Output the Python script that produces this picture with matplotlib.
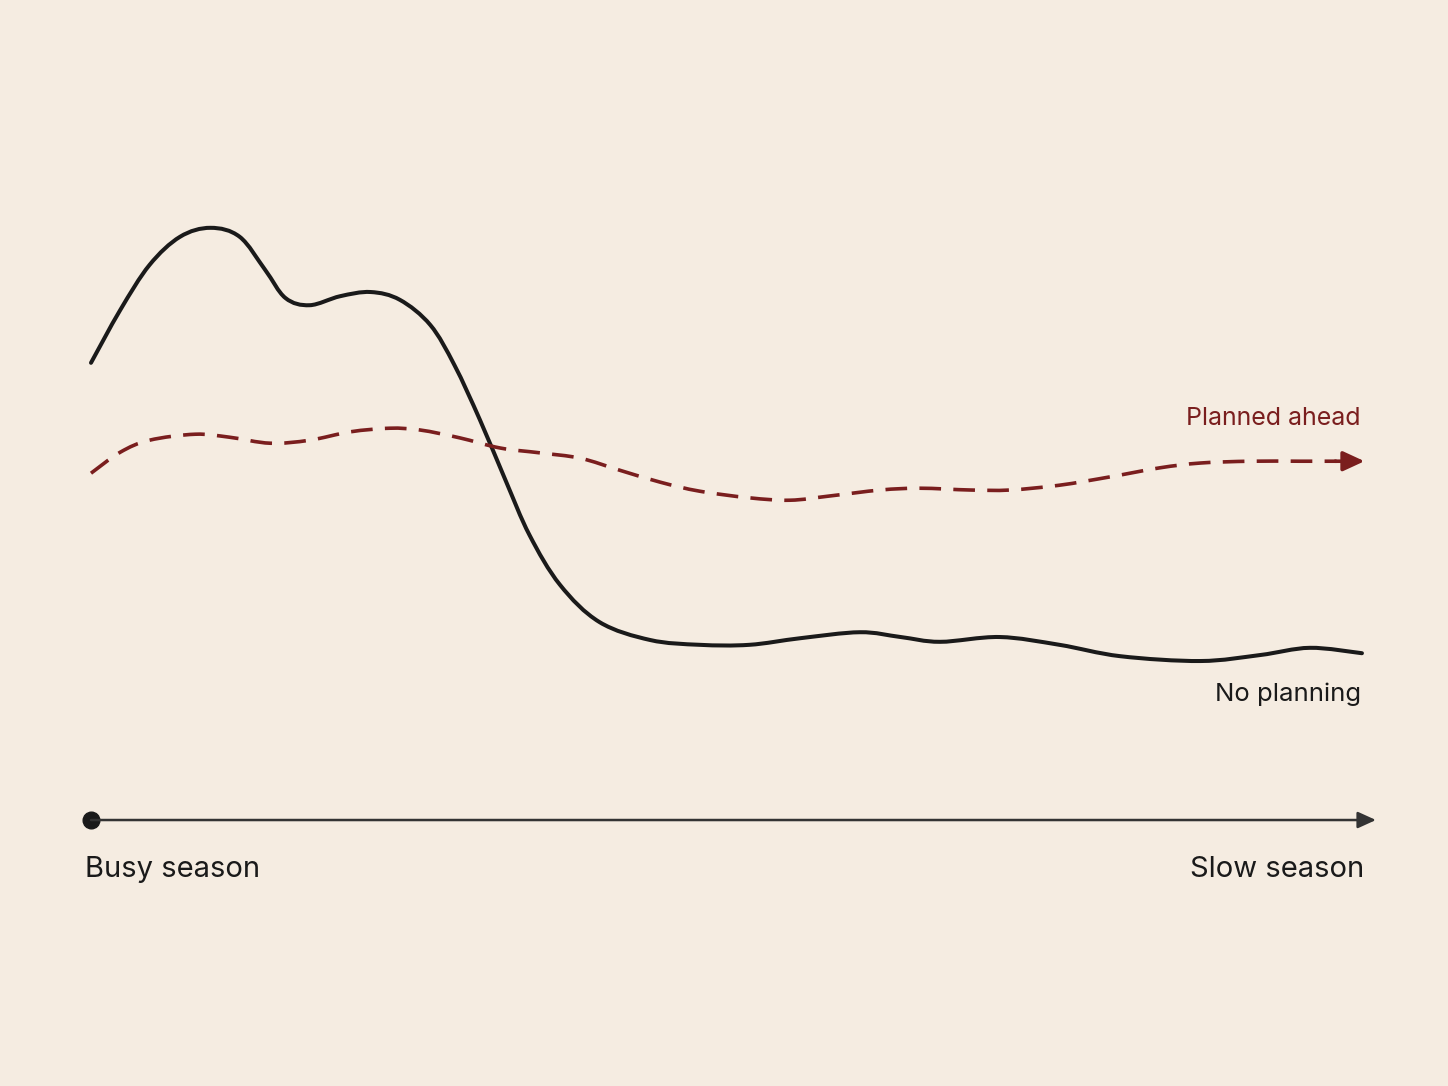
import numpy as np
import matplotlib.pyplot as plt
from matplotlib.path import Path
from matplotlib.patches import PathPatch

# season progress (0 = busy season, 100 = slow season) and workload level
no_plan_x = [0, 2.3, 4.6, 7.0, 9.4, 11.7, 13.7, 15.3, 17.2, 19.6, 22.0, 24.3, 26.7,
             28.6, 30.6, 32.6, 34.5, 36.9, 40.0, 44.0, 47.9, 51.8, 55.8, 60.5,
             63.7, 66.8, 71.5, 76.2, 81.0, 87.3, 92.0, 95.9, 100]
no_plan_y = [76.2, 85.0, 92.5, 97.2, 98.7, 97.2, 91.7, 87.0, 85.8, 87.3, 88.0, 86.7,
             82.5, 75.8, 66.7, 56.7, 47.5, 39.2, 33.0, 30.0, 29.2, 29.2, 30.3, 31.3,
             30.5, 29.7, 30.5, 29.2, 27.3, 26.5, 27.5, 28.7, 27.8]

planned_x = [0, 2.3, 4.6, 8.2, 10.9, 14.1, 17.2, 20.4, 23.5, 25.9, 29.0, 32.2, 35.3,
             38.5, 41.6, 44.8, 47.9, 51.8, 55.0, 58.1, 62.1, 65.2, 69.2, 72.3, 76.2,
             80.2, 84.1, 87.3, 91.2, 95.1, 98.0]
planned_y = [57.8, 61.3, 63.3, 64.3, 63.8, 62.8, 63.3, 64.7, 65.3, 65.0, 63.7, 62.0,
             61.2, 60.3, 58.3, 56.3, 54.8, 53.7, 53.3, 54.0, 55.0, 55.3, 55.0, 55.0,
             55.8, 57.2, 58.7, 59.5, 59.8, 59.8, 59.8]

axis_labels = ["Busy season", "Slow season"]
series_labels = ["Planned ahead", "No planning"]

bg = "#f5ece1"
red = "#7a1e1e"
black = "#1a1a1a"

plt.rcParams['font.family'] = ['Inter', 'DejaVu Sans']


def smooth_path(xs, ys):
    # bezier path through the points (catmull-rom control points)
    pts = np.column_stack([xs, ys])
    n = len(pts)
    verts = [pts[0]]
    codes = [Path.MOVETO]
    for i in range(n - 1):
        p0 = pts[max(i - 1, 0)]
        p1 = pts[i]
        p2 = pts[i + 1]
        p3 = pts[min(i + 2, n - 1)]
        verts += [p1 + (p2 - p0) / 6, p2 - (p3 - p1) / 6, p2]
        codes += [Path.CURVE4] * 3
    return Path(verts, codes)


fig = plt.figure(figsize=(14.48, 10.86), dpi=100)
fig.patch.set_facecolor(bg)
ax = fig.add_axes([0, 0, 1, 1])
ax.set_facecolor(bg)
ax.set_xlim(-7.16, 106.77)
ax.set_ylim(-44.33, 136.67)
ax.axis('off')

# time axis
ax.annotate("", xy=(101.1, 0), xytext=(0, 0),
            arrowprops=dict(arrowstyle="-|>,head_length=1.1,head_width=0.5",
                            color="#333333", lw=1.8, shrinkA=0, shrinkB=0))
ax.plot([0], [0], 'o', color=black, markersize=12)

# no planning
ax.add_patch(PathPatch(smooth_path(no_plan_x, no_plan_y), fill=False,
                       edgecolor=black, lw=2.9, capstyle='round', joinstyle='round'))

# planned ahead
ax.add_patch(PathPatch(smooth_path(planned_x, planned_y), fill=False,
                       edgecolor=red, lw=2.6, linestyle=(0, (6, 3.4))))
ax.annotate("", xy=(100.2, planned_y[-1]), xytext=(97.9, planned_y[-1]),
            arrowprops=dict(arrowstyle="-|>,head_length=1.3,head_width=0.6",
                            color=red, lw=2.6, shrinkA=0, shrinkB=0))

ax.text(-0.5, -9.5, axis_labels[0], fontsize=21, color=black, ha='left', va='baseline')
ax.text(100.2, -9.5, axis_labels[1], fontsize=21, color=black, ha='right', va='baseline')
ax.text(99.9, 65.8, series_labels[0], fontsize=18, color=red, ha='right', va='baseline')
ax.text(99.9, 19.8, series_labels[1], fontsize=18.5, color=black, ha='right', va='baseline')

fig.savefig("out.png", dpi=100, facecolor=bg)
